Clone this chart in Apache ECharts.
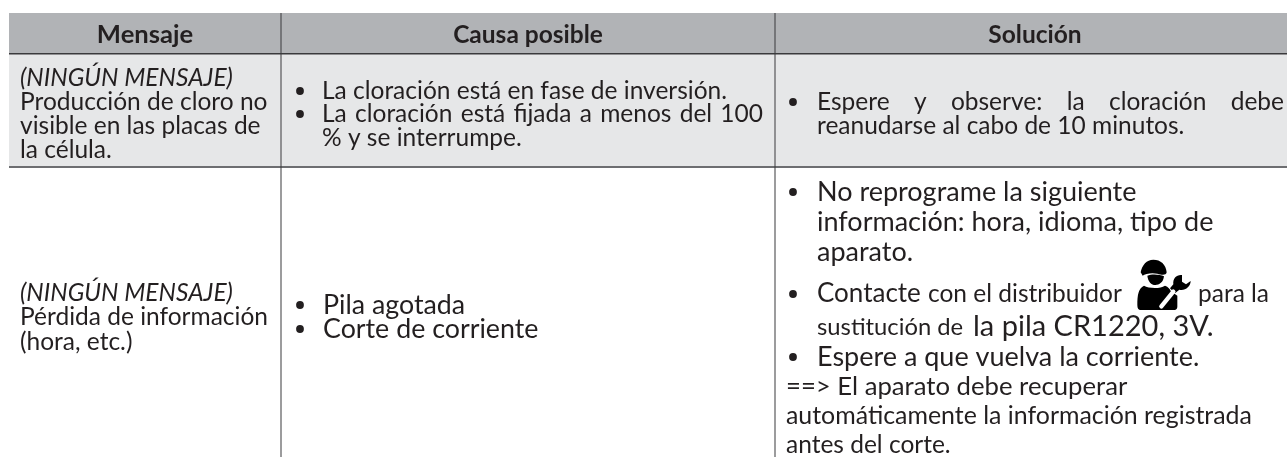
<!DOCTYPE html>
<html>
<head>
<meta charset="utf-8">
<title>Mensajes</title>
<script src="https://cdn.jsdelivr.net/npm/echarts@6/dist/echarts.min.js"></script>
<style>
  html, body { margin: 0; padding: 0; background: #fff; }
  #main { width: 1287px; height: 457px; }
</style>
</head>
<body>
<div id="main"></div>
<script>
// table content, top to bottom
const headers = ["Mensaje", "Causa posible", "Solución"];
const msgRow1 = ["(NINGÚN MENSAJE)", "Producción de cloro no", "visible en las placas de", "la célula."];
const causeRow1 = ["La cloración está en fase de inversión.", "La cloración está fijada a menos del 100", "% y se interrumpe."];
const fixRow1 = ["Espere y observe: la cloración debe", "reanudarse al cabo de 10 minutos."];
const msgRow2 = ["(NINGÚN MENSAJE)", "Pérdida de información", "(hora, etc.)"];
const causeRow2 = ["Pila agotada", "Corte de corriente"];
const fixRow2 = [
  ["No reprograme la siguiente"],
  ["información: hora, idioma, tipo de"],
  ["aparato."],
  ["Contacte", "con el distribuidor", "para la"],
  ["sustitución de", "la pila CR1220, 3V."],
  ["Espere a que vuelva la corriente."],
  ["==> El aparato debe recuperar"],
  ["automáticamente la información registrada"],
  ["antes del corte."]
];

// layout
const W = 1287, H = 457;
const colX = [9, 281, 775, 1287];
const rowY = [13, 54, 167, 457];
const headerX = [145, 528, 1035];
const headerSize = [25.6, 24.5, 24.5];
const INK = "#231f20";
const FAMILY = "Lato, 'Open Sans', sans-serif";
const SIZE = 24.5;
const FONT = SIZE + "px " + FAMILY;
const measurer = document.createElement("canvas").getContext("2d");

// solution cell, row 2: middle y, then start x and size of each run on the line
const fixMid = [192, 222, 252, 294, 327, 357, 387, 416, 445];
const fixRunX = [[817], [817], [817], [817, 928, 1198], [817, 973], [817], [786], [786], [786]];
const fixRunSize = [[27], [27], [27], [26, 24.5, 24.5], [23.8, 29], [27], [25.7], [24.9], [24.5]];
const fixBulletLines = [0, 3, 5];

// worker with wrench, drawn in a 240x180 box
const ICON_AT = [1120, 255];
const ICON_BLACK = "M62 52 C66 30 80 14 100 14 C122 14 138 28 140 52 C138 62 125 60 112 56 C95 52 75 56 68 62 Z" +
  " M82 62 C95 56 120 58 132 64 C130 82 118 90 106 90 C94 90 84 80 82 62 Z" +
  " M72 92 C85 100 120 102 135 92 C145 96 150 102 152 108 L172 122 L172 155 C172 162 168 165 160 165 L62 165 C55 165 52 160 52 150 C52 120 55 100 72 92 Z" +
  " M186 60 C170 58 158 70 160 88 L150 100 L165 115 L178 104 C195 108 212 95 212 78 L198 88 L186 80 Z";
const ICON_WHITE = "M124 154 L160 110";

function textWidth(txt, font) {
  measurer.font = font;
  return measurer.measureText(txt).width;
}

// every line of text becomes one item: x, middle y, string, font
var items = [];
function put(x, y, txt, font, align) {
  items.push({ x: x, y: y, txt: txt, font: font, align: align || "left" });
}
function block(lines, x, ys, italicFirst) {
  lines.forEach(function (l, i) {
    put(x, ys[i], l, (italicFirst && i == 0 ? "italic " : "") + FONT);
  });
}
function bullet(x, y) {
  items.push({ dot: true, x: x, y: y, r: 3.9 });
}
// stretch the gaps between words so the line ends at right
function justify(txt, x, right, y, font) {
  var words = txt.split(" ");
  var total = 0;
  words.forEach(function (w) { total += textWidth(w, font); });
  var gap = (right - x - total) / (words.length - 1);
  var cur = x;
  words.forEach(function (w) {
    put(cur, y, w, font);
    cur += textWidth(w, font) + gap;
  });
}

headers.forEach(function (h, i) {
  put(headerX[i], 35, h, "bold " + headerSize[i] + "px " + FAMILY, "center");
});

block(msgRow1, 20, [78, 102, 126, 150], true);
bullet(300, 91);
put(322, 91, causeRow1[0], FONT);
bullet(300, 114);
justify(causeRow1[1], 322, 763, 114, FONT);
put(322, 138, causeRow1[2], FONT);

bullet(793, 102);
justify(fixRow1[0], 817, 1284, 102, FONT);
put(817, 126, fixRow1[1], FONT);

block(msgRow2, 20, [293, 317, 342], true);
bullet(300, 305);
put(323, 305, causeRow2[0], "26.8px " + FAMILY);
bullet(300, 329);
put(323, 329, causeRow2[1], "26.8px " + FAMILY);

fixBulletLines.forEach(function (i) { bullet(793, fixMid[i]); });
fixRow2.forEach(function (runs, i) {
  runs.forEach(function (run, j) {
    put(fixRunX[i][j], fixMid[i], run, fixRunSize[i][j] + "px " + FAMILY);
  });
});

const chart = echarts.init(document.getElementById("main"), null, { renderer: "canvas" });

chart.setOption({
  animation: false,
  grid: { left: 0, right: 0, top: 0, bottom: 0 },
  xAxis: { type: "value", min: 0, max: W, show: false },
  yAxis: { type: "value", min: 0, max: H, inverse: true, show: false },
  series: [
    {
      // row fills and rules
      type: "custom",
      coordinateSystem: "cartesian2d",
      silent: true,
      data: [0],
      renderItem: function (params, api) {
        var rect = function (x0, y0, x1, y1, fill) {
          var a = api.coord([x0, y0]), b = api.coord([x1, y1]);
          return { type: "rect", shape: { x: a[0], y: a[1], width: b[0] - a[0], height: b[1] - a[1] }, style: { fill: fill } };
        };
        return {
          type: "group",
          children: [
            rect(colX[0], rowY[0], W, rowY[1], "#b1b3b6"),
            rect(colX[0], rowY[1], W, rowY[2], "#e6e7e8"),
            rect(colX[0], rowY[1] - 1, W, rowY[1] + 0.5, "#3a3a3c"),
            rect(colX[0], rowY[2] - 1, W, rowY[2] + 1, "#6d6e71"),
            rect(colX[1] - 0.5, rowY[0], colX[1] + 0.5, H, "#3a3a3c"),
            rect(colX[2] - 0.5, rowY[0], colX[2] + 0.5, H, "#3a3a3c")
          ]
        };
      }
    },
    {
      // text lines and bullets
      type: "custom",
      coordinateSystem: "cartesian2d",
      silent: true,
      data: items.map(function (d, i) { return i; }),
      renderItem: function (params, api) {
        var d = items[params.dataIndex];
        var c = api.coord([d.x, d.y]);
        if (d.dot) {
          return { type: "circle", shape: { cx: c[0], cy: c[1], r: d.r }, style: { fill: INK } };
        }
        return {
          type: "text",
          style: { x: c[0], y: c[1], text: d.txt, font: d.font, fill: INK, align: d.align, verticalAlign: "middle" }
        };
      }
    },
    {
      // technician icon
      type: "custom",
      coordinateSystem: "cartesian2d",
      silent: true,
      data: [0],
      renderItem: function (params, api) {
        var c = api.coord(ICON_AT);
        return {
          type: "group",
          x: c[0],
          y: c[1],
          scaleX: 1 / 3,
          scaleY: 1 / 3,
          children: [
            { type: "path", shape: { pathData: ICON_BLACK }, style: { fill: "#000" } },
            { type: "path", shape: { pathData: ICON_WHITE }, style: { fill: "none", stroke: "#fff", lineWidth: 13, lineCap: "round" } }
          ]
        };
      }
    }
  ]
});
</script>
</body>
</html>
